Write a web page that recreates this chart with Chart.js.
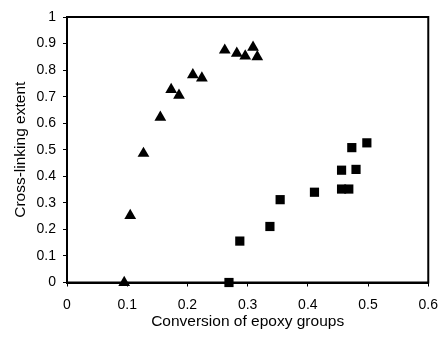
<!DOCTYPE html>
<html>
<head>
<meta charset="utf-8">
<script src="https://cdn.jsdelivr.net/npm/chart.js@4/dist/chart.umd.min.js"></script>
<style>
  html, body { margin: 0; padding: 0; background: #fff; }
  #wrap { width: 448px; height: 341px; }
</style>
</head>
<body>
<div id="wrap"><canvas id="scatter_chart"></canvas></div>
<script>
// triangles
var triX = [0.095, 0.105, 0.127, 0.155, 0.173, 0.186, 0.209, 0.224, 0.262, 0.282, 0.296, 0.309, 0.316];
var triY = [0, 0.252, 0.486, 0.622, 0.727, 0.705, 0.782, 0.770, 0.875, 0.863, 0.853, 0.886, 0.850];
// squares
var sqX = [0.269, 0.287, 0.337, 0.354, 0.411, 0.456, 0.468, 0.456, 0.480, 0.473, 0.498];
var sqY = [0, 0.156, 0.211, 0.312, 0.340, 0.352, 0.352, 0.423, 0.426, 0.508, 0.526];

var xTicks = [0, 0.1, 0.2, 0.3, 0.4, 0.5, 0.6];
var yTicks = [0, 0.1, 0.2, 0.3, 0.4, 0.5, 0.6, 0.7, 0.8, 0.9, 1];

function toPoints(xs, ys) {
    return xs.map(function (x, i) { return { x: x, y: ys[i] }; });
}

// frame round the plot area
var framePlugin = {
    id: 'frame',
    afterDraw: function (chart) {
        var a = chart.chartArea;
        var c = chart.ctx;
        c.save();
        c.strokeStyle = '#000';
        c.lineWidth = 2;
        c.strokeRect(a.left, a.top, a.right - a.left, a.bottom - a.top);
        c.restore();
    }
};

Chart.defaults.font.family = '"Liberation Sans", Arial, sans-serif';
Chart.defaults.color = '#000';

var ctx = document.getElementById('scatter_chart').getContext('2d');
var chart = new Chart(ctx, {
    type: 'scatter',
    data: {
        datasets: [
            {
                label: 'triangles',
                data: toPoints(triX, triY),
                pointStyle: 'triangle',
                pointRadius: 6.8,
                backgroundColor: '#000',
                borderColor: '#000',
                borderWidth: 0,
                clip: false
            },
            {
                label: 'squares',
                data: toPoints(sqX, sqY),
                pointStyle: 'rect',
                pointRadius: 6.5,
                backgroundColor: '#000',
                borderColor: '#000',
                borderWidth: 0,
                clip: false
            }
        ]
    },
    options: {
        responsive: true,
        maintainAspectRatio: false,
        animation: false,
        layout: { padding: { top: 17, right: 14, left: 0, bottom: 0 } },
        plugins: {
            legend: { display: false },
            tooltip: { enabled: false }
        },
        scales: {
            x: {
                type: 'linear',
                min: 0,
                max: 0.6,
                afterBuildTicks: function (axis) {
                    axis.ticks = xTicks.map(function (v) { return { value: v }; });
                },
                afterFit: function (axis) { axis.height = 58.5; },
                grid: { drawOnChartArea: false, tickLength: 4, color: '#000' },
                border: { color: '#000', width: 2 },
                ticks: {
                    font: { size: 14 }, padding: 10, maxRotation: 0,
                    callback: function (v) { return String(v); }
                },
                title: {
                    display: true,
                    text: 'Conversion of epoxy groups',
                    font: { size: 15.5 },
                    padding: { top: 4, bottom: 10 }
                }
            },
            y: {
                type: 'linear',
                min: 0,
                max: 1,
                afterBuildTicks: function (axis) {
                    axis.ticks = yTicks.map(function (v) { return { value: v }; });
                },
                afterFit: function (axis) { axis.width = 67; },
                grid: { drawOnChartArea: false, tickLength: 4, color: '#000' },
                border: { color: '#000', width: 2 },
                ticks: {
                    font: { size: 14 }, padding: 7,
                    callback: function (v) { return String(v); }
                },
                title: {
                    display: true,
                    text: 'Cross-linking extent',
                    font: { size: 15.5 },
                    padding: { top: 11, bottom: 4 }
                }
            }
        }
    },
    plugins: [framePlugin]
});
</script>
</body>
</html>
